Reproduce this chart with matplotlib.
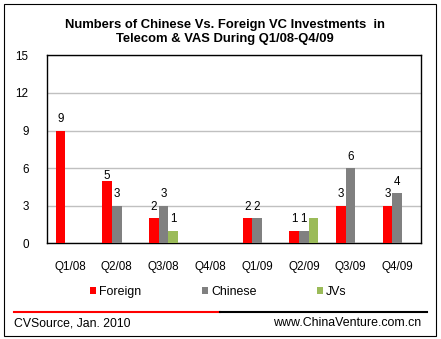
import numpy as np
import matplotlib
matplotlib.use("Agg")
import matplotlib.pyplot as plt
from matplotlib.patches import Patch, Rectangle
from matplotlib.lines import Line2D

quarters = ["Q1/08", "Q2/08", "Q3/08", "Q4/08", "Q1/09", "Q2/09", "Q3/09", "Q4/09"]
foreign = [9, 5, 2, 0, 2, 1, 3, 3]
chinese = [0, 3, 3, 0, 2, 1, 6, 4]
jvs = [0, 0, 1, 0, 0, 2, 0, 0]
# which values carry a data label in the original (the JV bar in Q2/09 has none)
jv_shown = [False, False, True, False, False, False, False, False]

series = [
    ("Foreign", foreign, "#FF0000"),
    ("Chinese", chinese, "#808080"),
    ("JVs", jvs, "#9BBB59"),
]

plt.rcParams["font.family"] = ["Liberation Sans", "DejaVu Sans"]
W, H = 441, 339
fig = plt.figure(figsize=(W / 100, H / 100), dpi=100)
ax = fig.add_axes([46.7 / W, 1 - 243.3 / H, 374 / W, 188 / H])

x = np.arange(len(quarters))
bw = 0.207
fs = 8.4
for i, (name, vals, col) in enumerate(series):
    pos = x + (i - 1) * bw
    ax.bar(pos, vals, width=bw, color=col, zorder=3)
    for j, (p, v) in enumerate(zip(pos, vals)):
        if v == 0:
            continue
        if name == "JVs" and not jv_shown[j]:
            continue
        dy = 6
        if name == "Foreign" and j == 1:
            dy = 1.5
        ax.annotate(str(v), (p, v), xytext=(0, dy), textcoords="offset points",
                    ha="center", va="baseline", fontsize=fs)

ax.set_xlim(-0.5, len(quarters) - 0.5)
ax.set_ylim(0, 15)
ax.set_yticks([0, 3, 6, 9, 12, 15])
ax.set_xticks(x)
ax.set_xticklabels(quarters)
ax.tick_params(axis="both", length=0, labelsize=fs)
ax.tick_params(axis="y", pad=13)
ax.tick_params(axis="x", pad=13)
ax.yaxis.grid(True, color="#C0C0C0", lw=1)
ax.set_axisbelow(True)
for s in ax.spines.values():
    s.set_linewidth(1)

fig.text(225 / W, 1 - 32 / H,
         "Numbers of Chinese Vs. Foreign VC Investments  in\nTelecom & VAS During Q1/08-Q4/09",
         ha="center", va="center", fontsize=9.4, fontweight="bold", linespacing=1.2)

handles = [Patch(facecolor=c, edgecolor="none") for _, _, c in series]
fig.legend(handles, [n for n, _, _ in series], loc="center",
           bbox_to_anchor=(218.5 / W, 1 - 291.7 / H), ncol=3, frameon=False,
           fontsize=8.9, handlelength=0.46, handleheight=0.46,
           handletextpad=0.27, columnspacing=4.9, borderpad=0)

ly = 1 - 312.3 / H
fig.add_artist(Line2D([14 / W, 220 / W], [ly, ly], color="#FF0000", lw=1.5))
fig.add_artist(Line2D([220 / W, 426.7 / W], [ly, ly], color="black", lw=1.5))

fig.text(14 / W, 1 - 323 / H, "CVSource, Jan. 2010", ha="left", va="center", fontsize=8.8)
fig.text(420.7 / W, 1 - 323 / H, "www.ChinaVenture.com.cn", ha="right", va="center", fontsize=8.9)

fig.add_artist(Rectangle((3.5 / W, 1 - 335.5 / H), 432 / W, 331.5 / H,
                         transform=fig.transFigure, fill=False, edgecolor="black", lw=0.8))

fig.savefig("out.png", dpi=100)
